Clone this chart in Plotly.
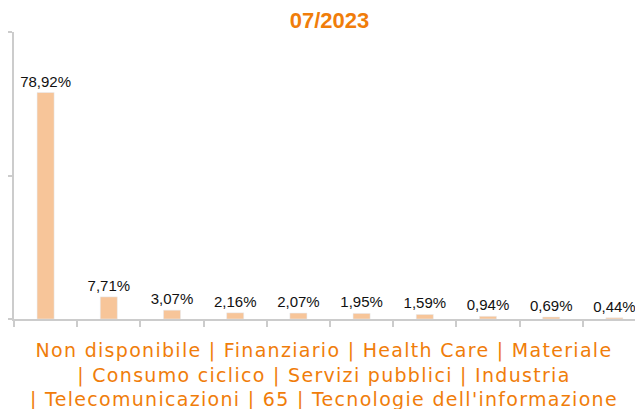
import plotly.graph_objects as go

categories = ["Non disponibile", "Finanziario", "Health Care", "Materiale",
              "Consumo ciclico", "Servizi pubblici", "Industria",
              "Telecomunicazioni", "65", "Tecnologie dell'informazione"]
values = [78.92, 7.71, 3.07, 2.16, 2.07, 1.95, 1.59, 0.94, 0.69, 0.44]
y_ticks = [0, 50, 100]

labels = [f"{v:.2f}%".replace(".", ",") for v in values]

title_lines = ["Non disponibile | Finanziario | Health Care | Materiale",
               "| Consumo ciclico | Servizi pubblici | Industria",
               "| Telecomunicazioni | 65 | Tecnologie dell'informazione"]
x_title = "<br>".join(f'<span style="letter-spacing:1.3px">{t}</span>' for t in title_lines)

fig = go.Figure(go.Bar(
    x=categories, y=values,
    marker_color='#F7C599',
    text=labels, textposition='outside', cliponaxis=False,
    constraintext='none',
    textfont=dict(family='Liberation Sans', size=15, color='#111111'),
    width=0.27
))

# page body adds an 8px offset, margins compensate for it
fig.update_layout(
    width=643, height=409,
    paper_bgcolor='white', plot_bgcolor='white',
    margin=dict(l=6, r=5, t=24, b=98),
    showlegend=False,
    title=dict(text='<b>07/2023</b>', x=0.5, xanchor='center', y=0.99, yanchor='top',
               font=dict(family='Liberation Sans', size=22, color='#F07D0A')),
    xaxis=dict(
        showticklabels=False, ticks='outside', tickson='boundaries',
        ticklen=6, tickcolor='#cccccc', tickwidth=2,
        showline=True, linecolor='#cccccc', linewidth=2,
        showgrid=False, zeroline=False, automargin=False
    ),
    yaxis=dict(
        range=[0, 100], tickvals=y_ticks, showticklabels=False,
        ticks='outside', ticklen=6, tickcolor='#cccccc', tickwidth=2,
        showline=True, linecolor='#cccccc', linewidth=2,
        showgrid=False, zeroline=False, automargin=False
    ),
    annotations=[dict(
        text=x_title, xref='paper', yref='paper', x=0.4905, y=0,
        xanchor='center', yanchor='top', yshift=-18, showarrow=False,
        font=dict(family='DejaVu Sans', size=19, color='#F07D0A')
    )]
)

fig.write_html("out.html")
